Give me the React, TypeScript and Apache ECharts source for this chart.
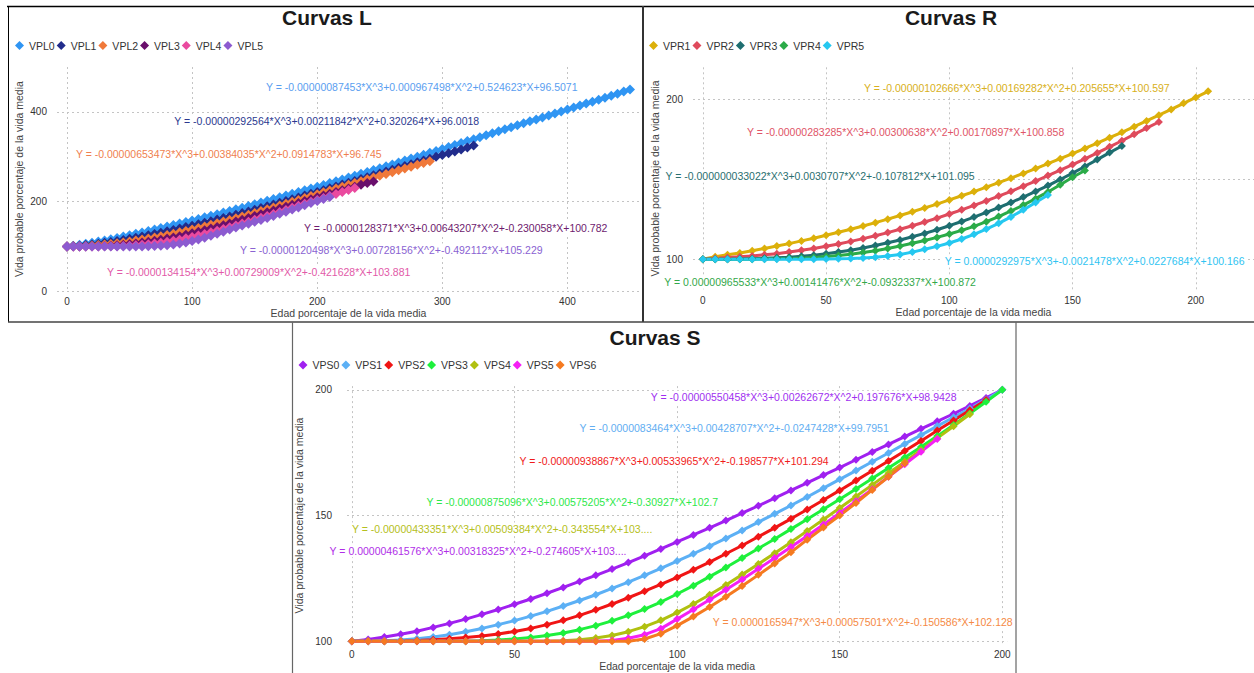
import React, { useEffect, useRef } from "react";
import * as echarts from "echarts";

const FONT = '"Liberation Sans", Arial, Helvetica, sans-serif';

// Ages (x) – percentage of mean life, step 5
const AGES = [
  0, 5, 10, 15, 20, 25, 30, 35, 40, 45, 50, 55, 60, 65, 70, 75, 80, 85, 90, 95,
  100, 105, 110, 115, 120, 125, 130, 135, 140, 145, 150, 155, 160, 165, 170, 175, 180, 185, 190, 195,
  200, 205, 210, 215, 220, 225, 230, 235, 240, 245, 250, 255, 260, 265, 270, 275, 280, 285, 290, 295,
  300, 305, 310, 315, 320, 325, 330, 335, 340, 345, 350, 355, 360, 365, 370, 375, 380, 385, 390, 395,
  400, 405, 410, 415, 420, 425, 430, 435, 440, 445, 450,
];

// ---------- Curvas L ----------
const VPL0 = [
  100, 101.5, 103.5, 106, 108.5, 111, 113.5, 116.2, 119, 122,
  125, 128.1, 131.3, 134.5, 137.7, 140.9, 144.2, 147.6, 150.9, 154.3,
  157.8, 161.3, 164.8, 168.3, 171.9, 175.5, 179.1, 182.8, 186.5, 190.3,
  194, 197.8, 201.6, 205.5, 209.4, 213.3, 217.2, 221.2, 225.1, 229.1,
  233.1, 237.2, 241.3, 245.3, 249.4, 253.6, 257.7, 261.9, 266.1, 270.3,
  274.5, 278.7, 282.9, 287.2, 291.5, 295.8, 300.1, 304.4, 308.7, 313,
  317.4, 321.7, 326.1, 330.4, 334.8, 339.2, 343.6, 348, 352.4, 356.8,
  361.2, 365.6, 370, 374.4, 378.8, 383.2, 387.6, 392, 396.4, 400.8,
  405.2, 409.6, 414, 418.4, 422.7, 427.1, 431.5, 435.8, 440.2, 445.2, 450,
];
const VPL1 = [
  100, 100.8, 101.8, 103, 104.5, 106.2, 108.1, 110.1, 112.2, 114.5,
  117, 119.5, 122.2, 125, 127.8, 130.7, 133.7, 136.8, 139.9, 143.1,
  146.3, 149.6, 153, 156.4, 159.9, 163.4, 167, 170.7, 174.3, 178.1,
  181.8, 185.6, 189.5, 193.4, 197.3, 201.3, 205.2, 209.2, 213.3, 217.3,
  221.4, 225.5, 229.6, 233.7, 237.8, 242, 246.1, 250.3, 254.4, 258.6,
  262.8, 266.9, 271.1, 275.2, 279.3, 283.4, 287.5, 291.6, 295.7, 299.7,
  303.8, 307.8, 311.9, 316, 320.5, 325,
];
const VPL2 = [
  100, 100.2, 100.6, 101.2, 102, 103, 104.2, 105.6, 107.2, 109,
  111, 113.1, 115.3, 117.7, 120.2, 122.8, 125.5, 128.4, 131.4, 134.5,
  137.8, 141.1, 144.6, 148.1, 151.7, 155.4, 159.2, 163, 166.9, 170.8,
  174.8, 178.9, 182.9, 187, 191.2, 195.3, 199.5, 203.7, 207.9, 212.2,
  216.4, 220.6, 224.8, 229, 233.2, 237.3, 241.4, 245.5, 249.6, 253.6,
  257.6, 261.5, 265.5, 269.6, 273.7, 277.9, 282.2, 286.1, 290,
];
const VPL3 = [
  100, 100, 100, 100.1, 100.3, 100.6, 101, 101.7, 102.6, 103.8,
  105.2, 106.8, 108.6, 110.6, 112.7, 115, 117.5, 120.1, 122.9, 126,
  129.3, 132.7, 136.2, 139.9, 143.6, 147.5, 151.4, 155.4, 159.4, 163.5,
  167.7, 171.9, 176, 180.3, 184.5, 188.7, 192.9, 197.1, 201.2, 205.3,
  209.4, 213.4, 217.3, 221.2, 225, 229.1, 233.3, 237.3, 241.2, 245,
];
const VPL4 = [
  100, 100, 100, 100, 100, 100.1, 100.2, 100.4, 100.7, 101.2,
  101.8, 102.6, 103.6, 104.9, 106.4, 108.2, 110.2, 112.5, 115.1, 118,
  121.1, 124.4, 127.9, 131.4, 135.1, 138.9, 142.8, 146.8, 150.9, 155.1,
  159.4, 163.7, 168.1, 172.5, 177, 181.5, 186, 190.5, 194.9, 199.4,
  203.8, 208.2, 212.6, 216.9, 221.1, 225.6, 230,
];
const VPL5 = [
  100, 100, 100, 100, 100, 100, 100, 100, 100, 100,
  100, 100, 100, 100.3, 100.8, 101.6, 102.8, 104.4, 106.4, 109,
  112, 115.5, 119.5, 123.8, 128.3, 133, 137.8, 142.3, 146.5, 150.7,
  154.9, 159.2, 163.6, 168.1, 172.7, 177.4, 182.1, 186.9, 191.8, 196.7,
  201.5, 205.9, 210,
];

// ---------- Curvas R ----------
const VPR1 = [
  100, 101.6, 102.8, 104, 105.4, 106.8, 108.3, 109.8, 111.5, 113.2,
  115, 116.9, 118.8, 120.8, 122.9, 125.1, 127.4, 129.7, 132.1, 134.5,
  137.1, 139.7, 142.3, 145.1, 147.9, 150.7, 153.7, 156.7, 159.8, 162.9,
  166.1, 169.3, 172.6, 176, 179.4, 182.9, 186.5, 190.1, 193.7, 197.5,
  201.2, 205,
];
const VPR2 = [
  100, 100.6, 101.2, 101.6, 102.1, 102.8, 103.5, 104.5, 105.6, 106.8,
  108.1, 109.6, 111.2, 112.9, 114.7, 116.7, 118.8, 121, 123.3, 125.7,
  128.3, 130.9, 133.7, 136.5, 139.5, 142.5, 145.7, 148.9, 152.3, 155.7,
  159.2, 162.8, 166.5, 170.3, 174.1, 178.1, 182, 185.8,
];
const VPR3 = [
  100, 100, 100.1, 100.2, 100.4, 100.6, 100.9, 101.3, 101.9, 102.6,
  103.5, 104.5, 105.7, 107.1, 108.6, 110.3, 112.1, 114.1, 116.2, 118.5,
  121, 123.6, 126.4, 129.3, 132.3, 135.5, 138.9, 142.4, 146.1, 149.9,
  153.9, 158, 162.3, 166.7, 170.8,
];
const VPR4 = [
  100, 100, 100, 100, 100.1, 100.2, 100.3, 100.5, 100.8, 101.2,
  101.7, 102.4, 103.2, 104.2, 105.4, 106.8, 108.3, 110, 111.8, 113.7,
  115.8, 118.1, 120.6, 123.5, 126.7, 130.2, 133.9, 137.9, 142.1, 146.6,
  151.3, 155.5,
];
const VPR5 = [
  100, 100, 100, 100, 100, 100, 100, 100, 100, 100.1,
  100.2, 100.3, 100.5, 100.8, 101.3, 102, 103, 104.5, 106.3, 108.1,
  110.2, 112.7, 115.6, 118.9, 122.5, 126.5, 130.9, 135.5, 140.2,
];

// ---------- Curvas S ----------
const VPS0 = [
  100, 100.7, 101.7, 102.8, 104, 105.5, 107.1, 108.8, 110.7, 112.6,
  114.7, 116.8, 119.1, 121.4, 123.8, 126.2, 128.7, 131.3, 134, 136.7,
  139.5, 142.3, 145.1, 148, 151, 153.9, 156.9, 160, 163, 166.1,
  169.1, 172.2, 175.3, 178.3, 181.4, 184.5, 187.5, 190.5, 193.6, 196.8,
  200,
];
const VPS1 = [
  100, 100, 100.2, 100.5, 101, 101.7, 102.6, 103.8, 105.1, 106.6,
  108.2, 110, 111.9, 114, 116.2, 118.5, 121, 123.5, 126.2, 129,
  131.9, 134.8, 137.8, 140.9, 144.1, 147.4, 150.7, 154, 157.4, 160.9,
  164.4, 167.9, 171.4, 174.9, 178.5, 182, 185.6, 189.1, 192.6, 196.2,
  200,
];
const VPS2 = [
  100, 100, 100, 100.1, 100.3, 100.6, 101, 101.5, 102.1, 102.9,
  103.9, 105.1, 106.6, 108.3, 110.3, 112.5, 114.8, 117.3, 119.9, 122.6,
  125.4, 128.4, 131.5, 134.8, 138.1, 141.6, 145.1, 148.7, 152.4, 156.2,
  160, 163.9, 167.8, 171.7, 175.7, 179.7, 183.8, 187.8, 191.9, 196,
];
const VPS3 = [
  100, 100, 100, 100, 100, 100, 100, 100, 100.2, 100.5,
  100.9, 101.5, 102.3, 103.3, 104.6, 106.2, 108.1, 110.3, 112.8, 115.6,
  118.8, 122.1, 125.7, 129.3, 133.1, 136.9, 140.7, 144.6, 148.5, 152.5,
  156.5, 160.6, 164.7, 168.9, 173.1, 177.3, 181.6, 186, 190.6, 195.3,
  200,
];
const VPS4 = [
  100, 100, 100, 100, 100, 100, 100, 100, 100, 100,
  100, 100, 100, 100.2, 100.6, 101.3, 102.3, 103.8, 105.8, 108.3,
  111.4, 114.8, 118.5, 122.4, 126.5, 130.7, 135, 139.4, 143.9, 148.4,
  153, 157.6, 162.2, 166.8, 171.4, 176.1, 180.8, 185.5, 190.3,
];
const VPS5 = [
  100, 100, 100, 100, 100, 100, 100, 100, 100, 100,
  100, 100, 100, 100, 100, 100, 100.3, 101.2, 102.6, 105,
  108.8, 112.6, 116.5, 120.5, 124.6, 128.8, 133.1, 137.5, 141.9, 146.4,
  151, 155.7, 160.5, 165.4, 170.4, 175.4, 180.5,
];
const VPS6 = [
  100, 100, 100, 100, 100, 100, 100, 100, 100, 100,
  100, 100, 100, 100, 100, 100, 100, 100, 100.9, 103,
  106.2, 109.8, 113.6, 117.7, 122, 126.4, 130.9, 135.4, 140.4, 145.2,
  150, 155, 160.2, 165.4, 170.8,
];

const NAMES_L = ["VPL0", "VPL1", "VPL2", "VPL3", "VPL4", "VPL5"];
const NAMES_R = ["VPR1", "VPR2", "VPR3", "VPR4", "VPR5"];
const NAMES_S = ["VPS0", "VPS1", "VPS2", "VPS3", "VPS4", "VPS5", "VPS6"];

const VALUES_L = [VPL0, VPL1, VPL2, VPL3, VPL4, VPL5];
const VALUES_R = [VPR1, VPR2, VPR3, VPR4, VPR5];
const VALUES_S = [VPS0, VPS1, VPS2, VPS3, VPS4, VPS5, VPS6];

const COLORS_L = ["#2f95f3", "#212c8c", "#f0793a", "#6a0f6c", "#ea4a9f", "#8c5bd0"];
const COLORS_R = ["#dcb00a", "#df4a5c", "#1e6e70", "#2bab48", "#25c8f0"];
const COLORS_S = ["#a020f0", "#5cb0f5", "#f01515", "#1ef03c", "#b0c010", "#f520f5", "#f57a20"];

const LABEL_COLORS_L = ["#5a9ef0", "#2b3990", "#ef7f4f", "#6e1b6e", "#e25aa8", "#8a63d2"];
const LABEL_COLORS_R = ["#d8b020", "#e05567", "#2a6f70", "#33a84a", "#2fc4f2"];
const LABEL_COLORS_S = ["#a030f0", "#62aef2", "#f01a1a", "#2ee84a", "#b5c020", "#b02ee8", "#f58a45"];

const EQUATIONS_L = [
  "Y = -0.00000087453*X^3+0.000967498*X^2+0.524623*X+96.5071",
  "Y = -0.00000292564*X^3+0.00211842*X^2+0.320264*X+96.0018",
  "Y = -0.00000653473*X^3+0.00384035*X^2+0.0914783*X+96.745",
  "Y = -0.0000128371*X^3+0.00643207*X^2+-0.230058*X+100.782",
  "Y = -0.0000134154*X^3+0.00729009*X^2+-0.421628*X+103.881",
  "Y = -0.0000120498*X^3+0.00728156*X^2+-0.492112*X+105.229",
];
const EQUATIONS_R = [
  "Y = -0.00000102666*X^3+0.00169282*X^2+0.205655*X+100.597",
  "Y = -0.00000283285*X^3+0.00300638*X^2+0.00170897*X+100.858",
  "Y = -0.000000033022*X^3+0.0030707*X^2+-0.107812*X+101.095",
  "Y = 0.00000965533*X^3+0.00141476*X^2+-0.0932337*X+100.872",
  "Y = 0.0000292975*X^3+-0.0021478*X^2+0.0227684*X+100.166",
];
const EQUATIONS_S = [
  "Y = -0.00000550458*X^3+0.00262672*X^2+0.197676*X+98.9428",
  "Y = -0.0000083464*X^3+0.00428707*X^2+-0.0247428*X+99.7951",
  "Y = -0.00000938867*X^3+0.00533965*X^2+-0.198577*X+101.294",
  "Y = -0.00000875096*X^3+0.00575205*X^2+-0.30927*X+102.7",
  "Y = -0.00000433351*X^3+0.00509384*X^2+-0.343554*X+103....",
  "Y = 0.00000461576*X^3+0.00318325*X^2+-0.274605*X+103....",
  "Y = 0.0000165947*X^3+0.00057501*X^2+-0.150586*X+102.128",
];

// R y-axis tick values whose labels are covered by a trend-line label in the reference
const R_HIDDEN_Y_LABELS = [150];

// label anchor positions (layout, pixels: text start x, centre y)
const EQ_POS_L = [[266, 86.7], [174.3, 121.3], [75.9, 154], [304, 228], [107, 272], [240, 250]];
const EQ_POS_R = [[864, 87.7], [746.9, 132.3], [665.5, 176], [664.3, 282.3], [944.7, 261]];
const EQ_POS_S = [[650.8, 397.3], [579.6, 428.3], [519.5, 461], [426.4, 502.3], [351.9, 529], [329.6, 550.7], [712.8, 621.7]];

const X_TITLE = "Edad porcentaje de la vida media";
const Y_TITLE = "Vida probable porcentaje de la vida media";

function pairs(ys: number[]) {
  return ys.map((y, i) => [AGES[i], y]);
}

function splitLine(showMin: boolean) {
  return {
    show: true,
    showMinLine: showMin,
    showMaxLine: false,
    lineStyle: { type: [2, 3], color: "#c4c4c4", width: 1 },
  };
}

function xAxis(gridIndex: number, min: number, max: number, splitNumber: number, margin: number, nameGap: number) {
  return {
    type: "value",
    gridIndex,
    min,
    max,
    splitNumber,
    axisLine: { show: false },
    axisTick: { show: false },
    axisLabel: { showMinLabel: false, showMaxLabel: false, fontSize: 10, color: "#333", fontFamily: FONT, margin },
    splitLine: splitLine(false),
    name: X_TITLE,
    nameLocation: "middle",
    nameGap,
    nameTextStyle: { fontSize: 10.5, color: "#444", fontFamily: FONT },
  };
}

function seriesFor(names: string[], values: number[][], colors: string[], idx: number, size: number, width: number) {
  return names.map((name, i) => ({
    type: "line",
    name,
    xAxisIndex: idx,
    yAxisIndex: idx,
    data: pairs(values[i]),
    symbol: "diamond",
    symbolSize: size,
    showSymbol: true,
    lineStyle: { width, color: colors[i] },
    itemStyle: { color: colors[i] },
    emphasis: { disabled: true },
    silent: true,
  }));
}

function legendFor(names: string[], left: number, top: number) {
  return {
    data: names,
    left,
    top,
    padding: 0,
    itemGap: 2,
    itemWidth: 9,
    itemHeight: 9,
    icon: "diamond",
    textStyle: { fontSize: 10.5, color: "#333", fontFamily: FONT },
  };
}

function equationTexts(eqs: string[], pos: number[][], colors: string[]) {
  return eqs.map((t, i) => ({
    type: "text",
    z: 50,
    x: pos[i][0] - 2,
    y: pos[i][1],
    style: {
      text: t,
      font: "10.5px " + FONT,
      fill: colors[i],
      align: "left",
      textAlign: "left",
      verticalAlign: "middle",
      textVerticalAlign: "middle",
      backgroundColor: "#ffffff",
      padding: [1, 2],
    },
  }));
}

function titleText(text: string, x: number, y: number) {
  return {
    type: "text",
    z: 50,
    x,
    y,
    style: {
      text,
      font: "bold 21px " + FONT,
      fill: "#1a1a1a",
      align: "center",
      textAlign: "center",
      verticalAlign: "middle",
      textVerticalAlign: "middle",
    },
  };
}

function borderLine(x1: number, y1: number, x2: number, y2: number, color: string, w: number) {
  return { type: "line", z: 60, shape: { x1, y1, x2, y2 }, style: { stroke: color, lineWidth: w } };
}

export default function App() {
  const ref = useRef<HTMLDivElement>(null);
  useEffect(() => {
    if (!ref.current) return;
    const chart = echarts.init(ref.current, null, { renderer: "svg" });
    const yCommon = {
      type: "value",
      axisLine: { show: false },
      axisTick: { show: false },
      nameLocation: "middle",
      name: Y_TITLE,
      nameTextStyle: { fontSize: 10.5, color: "#444", fontFamily: FONT },
    };
    chart.setOption({
      animation: false,
      backgroundColor: "#ffffff",
      grid: [
        { left: 57, top: 67, width: 583, height: 224.3 },
        { left: 693, top: 67.3, width: 561, height: 222.4 },
        { left: 347, top: 386.1, width: 660.2, height: 258.9 },
      ],
      xAxis: [
        xAxis(0, -8, 458, 5, 5, 15),
        xAxis(1, -4, 223.6, 4, 6, 17),
        xAxis(2, -1.5, 201.5, 4, 4, 15),
      ],
      yAxis: [
        {
          ...yCommon,
          gridIndex: 0,
          min: 0,
          max: 500,
          interval: 200,
          nameGap: 32.5,
          axisLabel: { showMaxLabel: false, fontSize: 10, color: "#333", fontFamily: FONT, margin: 10 },
          splitLine: splitLine(true),
        },
        {
          ...yCommon,
          gridIndex: 1,
          min: 81,
          max: 220,
          splitNumber: 3,
          nameGap: 33,
          axisLabel: {
            showMinLabel: false,
            showMaxLabel: false,
            fontSize: 10,
            color: "#333",
            fontFamily: FONT,
            margin: 10,
            formatter: (v: number) => (R_HIDDEN_Y_LABELS.includes(v) ? "" : String(v)),
          },
          splitLine: splitLine(false),
        },
        {
          ...yCommon,
          gridIndex: 2,
          min: 98.5,
          max: 201.5,
          splitNumber: 2,
          nameGap: 39,
          axisLabel: { showMinLabel: false, showMaxLabel: false, fontSize: 10, color: "#333", fontFamily: FONT, margin: 15 },
          splitLine: splitLine(false),
        },
      ],
      legend: [legendFor(NAMES_L, 15, 40), legendFor(NAMES_R, 649, 40), legendFor(NAMES_S, 298.5, 359.5)],
      series: [
        ...seriesFor(NAMES_L, VALUES_L, COLORS_L, 0, 10, 2),
        ...seriesFor(NAMES_R, VALUES_R, COLORS_R, 1, 8, 3),
        ...seriesFor(NAMES_S, VALUES_S, COLORS_S, 2, 8, 3),
      ],
      graphic: [
        titleText("Curvas L", 327, 17.5),
        titleText("Curvas R", 951, 17.5),
        titleText("Curvas S", 655, 337.5),
        ...equationTexts(EQUATIONS_L, EQ_POS_L, LABEL_COLORS_L),
        ...equationTexts(EQUATIONS_R, EQ_POS_R, LABEL_COLORS_R),
        ...equationTexts(EQUATIONS_S, EQ_POS_S, LABEL_COLORS_S),
        borderLine(7, 6.5, 1254, 6.5, "#000", 1.5),
        borderLine(8.5, 6, 8.5, 322, "#000", 1),
        borderLine(643, 6, 643, 322, "#333", 2),
        borderLine(8, 322, 1254, 322, "#444", 1.5),
        borderLine(292.5, 322, 292.5, 673, "#666", 1.2),
        borderLine(1016, 322, 1016, 673, "#666", 1.2),
      ],
    });
    return () => chart.dispose();
  }, []);
  return (
    <div
      ref={ref}
      style={{ position: "absolute", left: 0, top: 0, width: 1254, height: 673, background: "#fff" }}
    />
  );
}
